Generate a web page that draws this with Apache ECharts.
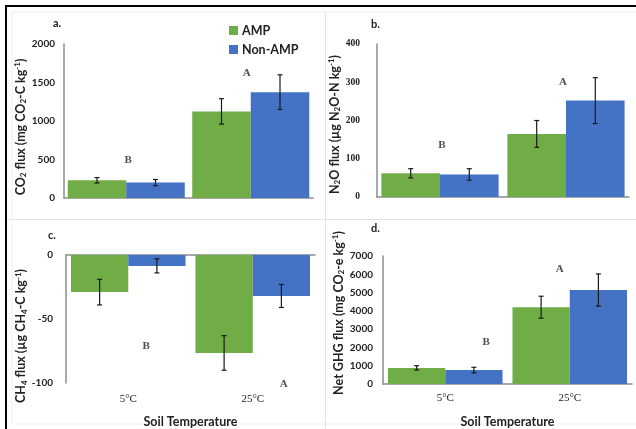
<!DOCTYPE html>
<html><head><meta charset="utf-8">
<script src="https://cdn.jsdelivr.net/npm/echarts@6/dist/echarts.min.js"></script>
<style>html,body{margin:0;padding:0;background:#fff}#c{width:636px;height:429px}</style>
</head><body><div id="c"></div>
<script>
const categories = ['5°C', '25°C'];
const seriesNames = ['AMP', 'Non-AMP'];
// a. CO2
const co2Amp = [230, 1125], co2AmpErr = [35, 165];
const co2Non = [200, 1375], co2NonErr = [40, 225];
// b. N2O
const n2oAmp = [62, 165], n2oAmpErr = [12, 35];
const n2oNon = [59, 252], n2oNonErr = [15, 60];
// c. CH4
const ch4Amp = [-29, -76.5], ch4AmpErr = [10, 13.5];
const ch4Non = [-8.5, -32], ch4NonErr = [5.5, 9];
// d. Net GHG
const ghgAmp = [880, 4200], ghgAmpErr = [120, 600];
const ghgNon = [760, 5140], ghgNonErr = [155, 880];
// significance letters [categoryIndex, value, letter]
const lettersA = [[0, 494, 'B'], [1, 1620, 'A']];
const lettersB = [[0, 136, 'B'], [1, 301, 'A']];
const lettersC = [[0, -71, 'B'], [1, -101, 'A']];
const lettersD = [[0, 2310, 'B'], [1, 6305, 'A']];
const yTicksA = [0, 2000, 500], yTicksB = [0, 400, 100], yTicksC = [-100, 0, 50], yTicksD = [0, 7000, 1000];

const GREEN = '#70AD47', BLUE = '#4472C4';
const SANS = 'Lato, "Open Sans", "DejaVu Sans", sans-serif';
const SERIF = '"Liberation Serif", "DejaVu Serif", serif';

const grids = [
  {left: 64, right: 323, top: 44, bottom: 231, gap: 0.06},
  {left: 377, right: 7, top: 44, bottom: 232, gap: 0.07},
  {left: 66, right: 321, top: 255, bottom: 41, gap: 0.08},
  {left: 383, right: 4, top: 256, bottom: 39, gap: 0.08}
];

const nameRich = {
  n: {fontFamily: SANS, fontWeight: 'bold', fontSize: 12.5, color: '#222'},
  s: {fontFamily: SANS, fontWeight: 'bold', fontSize: 8, color: '#222', verticalAlign: 'bottom', padding: [6, 0, 0, 0]},
  p: {fontFamily: SANS, fontWeight: 'bold', fontSize: 8, color: '#222', verticalAlign: 'top', padding: [0, 0, 6, 0]}
};
const yNames = [
  '{n|CO}{s|2}{n| flux (mg CO}{s|2}{n|-C kg}{p|-1}{n|)}',
  '{n|N}{s|2}{n|O flux (µg N}{s|2}{n|O-N kg}{p|-1}{n|)}',
  '{n|CH}{s|4}{n| flux (µg CH}{s|4}{n|-C kg}{p|-1}{n|)}',
  '{n|Net GHG flux (mg CO}{s|2}{n|-e kg}{p|-1}{n|)}'
];
const yGaps = [32, 29, 34, 36];
const yPads = [[0, 12, 0, 0], [0, 8, 0, 0], [0, 34, 0, 0], [0, 0, 0, 14]];
const yTicks = [yTicksA, yTicksB, yTicksC, yTicksD];
const yLabelMargins = [9, 17, 13, 10];
const yLabelFonts = [SANS, SERIF, SANS, SANS];
const yLabelSizes = [10, 9.5, 10, 10];

const axisLineStyle = {color: '#8c8c8c', width: 1.5};

const xAxes = [], yAxes = [];
grids.forEach((g, i) => {
  const bottomLabels = i >= 2;
  xAxes.push({
    type: 'category', gridIndex: i, data: categories,
    axisLine: {show: i !== 2, onZero: false, lineStyle: axisLineStyle},
    axisTick: {show: false},
    axisLabel: {show: bottomLabels, margin: i === 2 ? 11 : 9, fontFamily: SERIF, fontSize: 11, color: '#222'},
    name: bottomLabels ? 'Soil Temperature' : '',
    nameLocation: 'middle', nameGap: i === 2 ? 32 : 31,
    nameTextStyle: {fontFamily: SANS, fontWeight: 'bold', fontSize: 12.5, color: '#222'}
  });
  yAxes.push({
    type: 'value', gridIndex: i, min: yTicks[i][0], max: yTicks[i][1], interval: yTicks[i][2],
    axisLine: {show: true, onZero: false, lineStyle: axisLineStyle},
    axisTick: {show: false}, splitLine: {show: false},
    axisLabel: {margin: yLabelMargins[i], fontFamily: yLabelFonts[i], fontWeight: 'bold', fontSize: yLabelSizes[i], color: '#222',
      formatter: v => String(v)},
    name: yNames[i], nameLocation: 'middle', nameGap: yGaps[i], nameRotate: 90,
    nameTextStyle: {rich: nameRich, padding: yPads[i]}
  });
});
// zero line for panel c
xAxes.push({
  type: 'category', gridIndex: 2, data: categories, position: 'top',
  axisLine: {show: true, lineStyle: axisLineStyle}, axisTick: {show: false}, axisLabel: {show: false}
});

const panels = [
  [co2Amp, co2AmpErr, co2Non, co2NonErr, lettersA],
  [n2oAmp, n2oAmpErr, n2oNon, n2oNonErr, lettersB],
  [ch4Amp, ch4AmpErr, ch4Non, ch4NonErr, lettersC],
  [ghgAmp, ghgAmpErr, ghgNon, ghgNonErr, lettersD]
];
const letterOffsets = [[[2, 0], [-4, 0]], [[2, 0], [-3, 0]], [[18, 0], [31, 0]], [[41, 0], [-10, 0]]];

function errSeries(i, vals, errs, side) {
  const gap = grids[i].gap;
  return {
    type: 'custom', xAxisIndex: i, yAxisIndex: i, z: 5, silent: true,
    data: vals.map((v, k) => [k, v - errs[k], v + errs[k]]),
    renderItem: function (params, api) {
      const band = api.size([1, 0])[0];
      const barW = band * (1 - gap) / 2;
      const lo = api.coord([api.value(0), api.value(1)]);
      const hi = api.coord([api.value(0), api.value(2)]);
      const x = lo[0] + side * barW / 2;
      const cap = 2.5;
      const st = {stroke: '#1a1a1a', lineWidth: 1.2};
      return {type: 'group', children: [
        {type: 'line', shape: {x1: x, y1: lo[1], x2: x, y2: hi[1]}, style: st},
        {type: 'line', shape: {x1: x - cap, y1: lo[1], x2: x + cap, y2: lo[1]}, style: st},
        {type: 'line', shape: {x1: x - cap, y1: hi[1], x2: x + cap, y2: hi[1]}, style: st}
      ]};
    }
  };
}

const series = [];
panels.forEach((p, i) => {
  const gapPct = (grids[i].gap * 100) + '%';
  series.push({name: seriesNames[0], type: 'bar', xAxisIndex: i, yAxisIndex: i, data: p[0],
    itemStyle: {color: GREEN}, barGap: '0%', barCategoryGap: gapPct});
  series.push({name: seriesNames[1], type: 'bar', xAxisIndex: i, yAxisIndex: i, data: p[2],
    itemStyle: {color: BLUE}, barGap: '0%', barCategoryGap: gapPct});
  series.push(errSeries(i, p[0], p[1], -1));
  series.push(errSeries(i, p[2], p[3], 1));
  series.push({
    type: 'scatter', xAxisIndex: i, yAxisIndex: i, symbolSize: 0, clip: false, silent: true, z: 6,
    data: p[4].map((d, k) => ({value: [d[0], d[1]], label: {offset: letterOffsets[i][k]}, name: d[2]})),
    label: {show: true, position: 'inside', formatter: '{b}', fontFamily: SERIF, fontWeight: 'bold', fontSize: 11, color: '#222'}
  });
});

const panelLetters = [['a.', 53, 18], ['b.', 371, 19], ['c.', 48, 230], ['d.', 371, 223]];
const graphic = [
  {type: 'rect', shape: {x: 12, y: 12, width: 640, height: 412}, style: {fill: 'none', stroke: '#f0f0f0', lineWidth: 1}},
  {type: 'line', shape: {x1: 325.5, y1: 12, x2: 325.5, y2: 429}, style: {stroke: '#e3e3e3', lineWidth: 1}},
  {type: 'line', shape: {x1: 7, y1: 219.5, x2: 636, y2: 219.5}, style: {stroke: '#e3e3e3', lineWidth: 1}},
  {type: 'line', shape: {x1: 5, y1: 6, x2: 636, y2: 6}, style: {stroke: '#000', lineWidth: 2}},
  {type: 'line', shape: {x1: 6, y1: 5, x2: 6, y2: 429}, style: {stroke: '#000', lineWidth: 2}}
].concat(panelLetters.map(t => ({type: 'text', left: t[1], top: t[2],
  style: {text: t[0], fontFamily: SANS, fontWeight: 'bold', fontSize: 11, fill: '#222'}})));

const chart = echarts.init(document.getElementById('c'), null, {renderer: 'canvas'});
chart.setOption({
  animation: false,
  backgroundColor: '#fff',
  grid: grids.map(g => ({left: g.left, right: g.right, top: g.top, bottom: g.bottom, containLabel: false})),
  legend: {data: seriesNames, orient: 'vertical', left: 224, top: 19, itemWidth: 9, itemHeight: 9, itemGap: 6,
    icon: 'rect', textStyle: {fontFamily: SANS, fontWeight: 'bold', fontSize: 12.5, color: '#222', padding: [0, 0, 0, -1]}},
  xAxis: xAxes, yAxis: yAxes, series: series, graphic: graphic
});
</script></body></html>
